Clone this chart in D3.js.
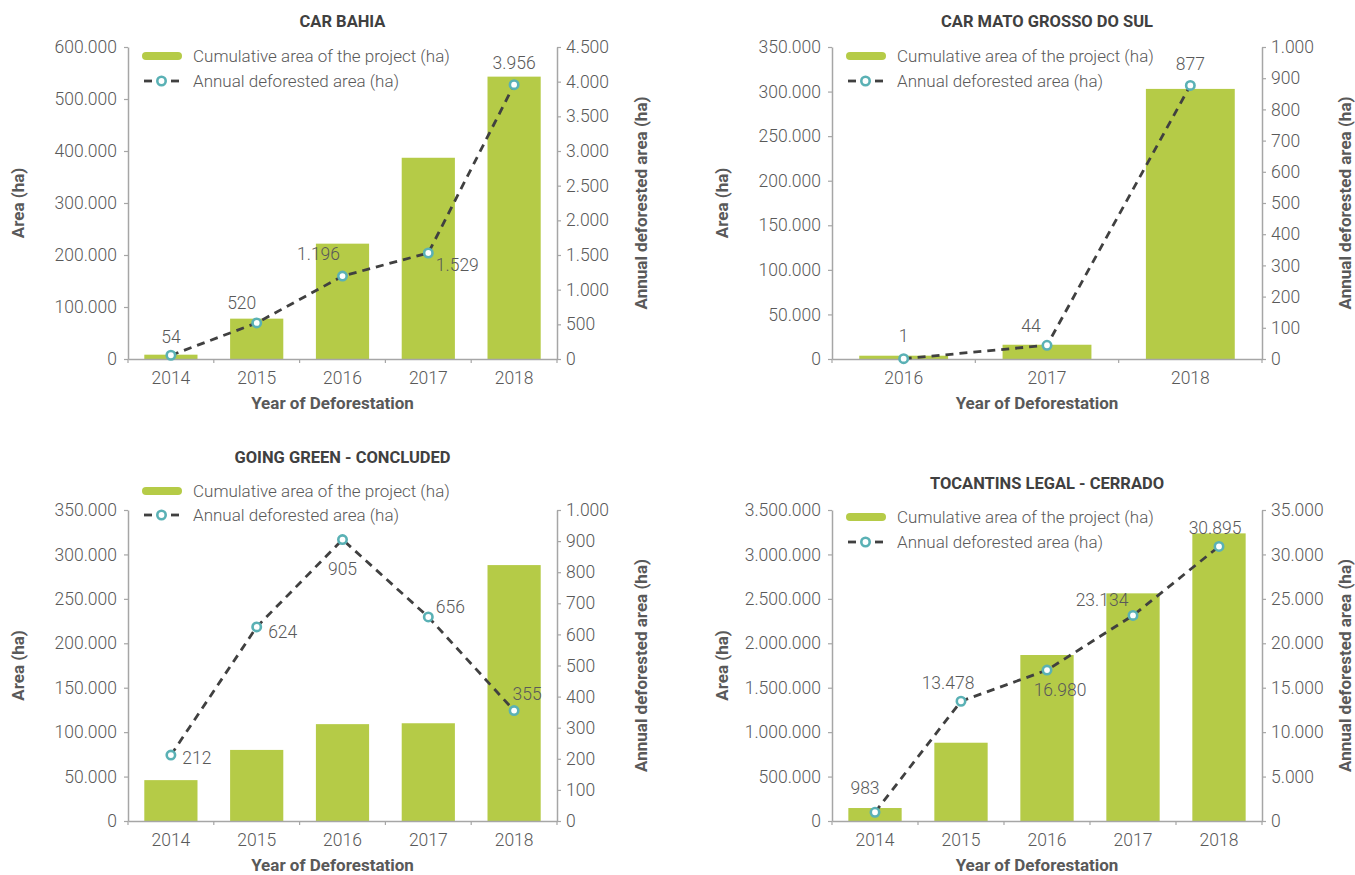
<!DOCTYPE html>
<html>
<head>
<meta charset="utf-8">
<script src="https://cdn.jsdelivr.net/npm/d3@7"></script>
<style>
  html, body { margin: 0; padding: 0; background: #fff; }
  svg { display: block; font-family: Roboto, "Noto Sans", sans-serif; }
</style>
</head>
<body>
<svg id="chart" width="1355" height="875"></svg>
<script>
// ---------------- DATA ----------------
const yearsBahia = ["2014", "2015", "2016", "2017", "2018"];
const cumBahia = [8300, 77600, 221800, 387000, 543000];
const annualBahia = [54, 520, 1196, 1529, 3956];
const leftTicksBahia = [0, 100000, 200000, 300000, 400000, 500000, 600000];
const rightTicksBahia = [0, 500, 1000, 1500, 2000, 2500, 3000, 3500, 4000, 4500];

const yearsMS = ["2016", "2017", "2018"];
const cumMS = [3700, 16000, 303000];
const annualMS = [1, 44, 877];
const leftTicksMS = [0, 50000, 100000, 150000, 200000, 250000, 300000, 350000];
const rightTicksMS = [0, 100, 200, 300, 400, 500, 600, 700, 800, 900, 1000];

const yearsGG = ["2014", "2015", "2016", "2017", "2018"];
const cumGG = [46000, 80000, 109000, 110000, 288000];
const annualGG = [212, 624, 905, 656, 355];
const leftTicksGG = [0, 50000, 100000, 150000, 200000, 250000, 300000, 350000];
const rightTicksGG = [0, 100, 200, 300, 400, 500, 600, 700, 800, 900, 1000];

const yearsTO = ["2014", "2015", "2016", "2017", "2018"];
const cumTO = [146000, 881000, 1868000, 2562000, 3237000];
const annualTO = [983, 13478, 16980, 23134, 30895];
const leftTicksTO = [0, 500000, 1000000, 1500000, 2000000, 2500000, 3000000, 3500000];
const rightTicksTO = [0, 5000, 10000, 15000, 20000, 25000, 30000, 35000];

const legendLabels = ["Cumulative area of the project (ha)", "Annual deforested area (ha)"];
const xTitle = "Year of Deforestation";
const yLeftTitle = "Area (ha)";
const yRightTitle = "Annual deforested area (ha)";

// ---------------- LAYOUT ----------------
const panels = [
  { title: "CAR BAHIA", cats: yearsBahia, bars: cumBahia, line: annualBahia,
    lt: leftTicksBahia, rt: rightTicksBahia,
    box: { x0: 128, x1: 557, yT: 47, yB: 359 }, titleY: 21, legY: [56, 81], legX: 142,
    leftTitleX: 18, rightTitleX: 641,
    off: [[0, -19], [-15, -20], [-24, -22], [29, 12], [0, -22]] },
  { title: "CAR MATO GROSSO DO SUL", cats: yearsMS, bars: cumMS, line: annualMS,
    lt: leftTicksMS, rt: rightTicksMS,
    box: { x0: 832, x1: 1262, yT: 47, yB: 359 }, titleY: 21, legY: [56, 81], legX: 846,
    leftTitleX: 722, rightTitleX: 1345,
    off: [[0, -23], [-16, -20], [0, -22]] },
  { title: "GOING GREEN - CONCLUDED", cats: yearsGG, bars: cumGG, line: annualGG,
    lt: leftTicksGG, rt: rightTicksGG,
    box: { x0: 128, x1: 557, yT: 510, yB: 821 }, titleY: 457, legY: [491, 515], legX: 142,
    leftTitleX: 18, rightTitleX: 641,
    off: [[26, 3], [26, 5], [0, 29], [22, -10], [13, -17]] },
  { title: "TOCANTINS LEGAL - CERRADO", cats: yearsTO, bars: cumTO, line: annualTO,
    lt: leftTicksTO, rt: rightTicksTO,
    box: { x0: 832, x1: 1262, yT: 510, yB: 821 }, titleY: 483, legY: [517, 542], legX: 846,
    leftTitleX: 722, rightTitleX: 1345,
    off: [[-10, -25], [-13, -19], [13, 20], [-31, -16], [-4, -19]] }
];

const BAR = "#b5cb47";
const LINE = "#404040";
const MARK = "#5ab1b5";
const TXT = "#595959";
const AX = "#a6a6a6";

const loc = d3.formatLocale({ decimal: ",", thousands: ".", grouping: [3], currency: ["", ""] });
const fmt = loc.format(",");

const svg = d3.select("#chart");

panels.forEach(p => {
  const b = p.box;
  const g = svg.append("g");
  const x = d3.scaleBand().domain(p.cats).range([b.x0, b.x1]).paddingInner(0.38).paddingOuter(0.19);
  const yL = d3.scaleLinear().domain([0, p.lt[p.lt.length - 1]]).range([b.yB, b.yT]);
  const yR = d3.scaleLinear().domain([0, p.rt[p.rt.length - 1]]).range([b.yB, b.yT]);

  // bars
  g.selectAll("rect.bar").data(p.cats).join("rect")
    .attr("x", d => x(d)).attr("width", x.bandwidth())
    .attr("y", (d, i) => yL(p.bars[i])).attr("height", (d, i) => yL(0) - yL(p.bars[i]))
    .attr("fill", BAR);

  // axes
  const styleAxis = sel => {
    sel.selectAll("path.domain").attr("stroke", AX).attr("stroke-width", 1.5);
    sel.selectAll(".tick line").attr("stroke", AX).attr("stroke-width", 1.2);
    sel.selectAll(".tick text").attr("fill", TXT).attr("font-size", 17.5).attr("font-weight", 300)
      .attr("font-family", "Roboto, sans-serif");
  };
  g.append("g").attr("transform", `translate(${b.x0},0)`)
    .call(d3.axisLeft(yL).tickValues(p.lt).tickFormat(fmt).tickSize(4).tickSizeOuter(0).tickPadding(7))
    .call(styleAxis);
  g.append("g").attr("transform", `translate(${b.x1},0)`)
    .call(d3.axisRight(yR).tickValues(p.rt).tickFormat(fmt).tickSize(4).tickSizeOuter(0).tickPadding(5))
    .call(styleAxis);
  const xa = g.append("g").attr("transform", `translate(0,${b.yB})`)
    .call(d3.axisBottom(x).tickSize(0).tickSizeOuter(0).tickPadding(13))
    .call(styleAxis);
  // boundary ticks between categories
  const bounds = d3.range(p.cats.length + 1).map(i => b.x0 + i * x.step());
  xa.selectAll("line.bound").data(bounds).join("line")
    .attr("x1", d => d).attr("x2", d => d).attr("y1", 0).attr("y2", 4)
    .attr("stroke", AX).attr("stroke-width", 1.2);

  // line series
  const pts = p.cats.map((c, i) => [x(c) + x.bandwidth() / 2, yR(p.line[i])]);
  g.append("path").attr("d", d3.line()(pts))
    .attr("fill", "none").attr("stroke", LINE).attr("stroke-width", 2.8)
    .attr("stroke-dasharray", "8,6");
  g.selectAll("circle.pt").data(pts).join("circle")
    .attr("cx", d => d[0]).attr("cy", d => d[1]).attr("r", 4.2)
    .attr("fill", "#fff").attr("stroke", MARK).attr("stroke-width", 2.6);
  g.selectAll("text.lbl").data(pts).join("text")
    .attr("x", (d, i) => d[0] + p.off[i][0]).attr("y", (d, i) => d[1] + p.off[i][1])
    .attr("dy", "0.36em").attr("text-anchor", "middle")
    .attr("fill", TXT).attr("font-size", 17.5).attr("font-weight", 300)
    .text((d, i) => fmt(p.line[i]));

  // title
  g.append("text").attr("x", (b.x0 + b.x1) / 2).attr("y", p.titleY).attr("dy", "0.36em")
    .attr("text-anchor", "middle").attr("font-size", 16.5).attr("font-weight", 700)
    .attr("fill", "#404040").text(p.title);

  // axis titles
  g.append("text").attr("x", (b.x0 + b.x1) / 2 - 10).attr("y", b.yB + 44).attr("dy", "0.36em")
    .attr("text-anchor", "middle").attr("font-size", 17).attr("font-weight", 700)
    .attr("fill", TXT).text(xTitle);
  const ym = (b.yT + b.yB) / 2;
  g.append("text").attr("transform", `translate(${p.leftTitleX},${ym}) rotate(-90)`).attr("dy", "0.36em")
    .attr("text-anchor", "middle").attr("font-size", 17).attr("font-weight", 700)
    .attr("fill", TXT).text(yLeftTitle);
  g.append("text").attr("transform", `translate(${p.rightTitleX},${ym}) rotate(-90)`).attr("dy", "0.36em")
    .attr("text-anchor", "middle").attr("font-size", 17).attr("font-weight", 700)
    .attr("fill", TXT).text(yRightTitle);

  // legend
  const lx = p.legX;
  g.append("rect").attr("x", lx).attr("y", p.legY[0] - 4).attr("width", 40).attr("height", 8)
    .attr("rx", 4).attr("fill", BAR);
  g.append("line").attr("x1", lx + 2).attr("x2", lx + 10).attr("y1", p.legY[1]).attr("y2", p.legY[1])
    .attr("stroke", LINE).attr("stroke-width", 2.8);
  g.append("line").attr("x1", lx + 29).attr("x2", lx + 37).attr("y1", p.legY[1]).attr("y2", p.legY[1])
    .attr("stroke", LINE).attr("stroke-width", 2.8);
  g.append("circle").attr("cx", lx + 19.5).attr("cy", p.legY[1]).attr("r", 4.2)
    .attr("fill", "#fff").attr("stroke", MARK).attr("stroke-width", 2.6);
  legendLabels.forEach((t, i) => {
    g.append("text").attr("x", lx + 51).attr("y", p.legY[i]).attr("dy", "0.36em")
      .attr("font-size", 17).attr("font-weight", 300).attr("fill", TXT).text(t);
  });
});
</script>
</body>
</html>
